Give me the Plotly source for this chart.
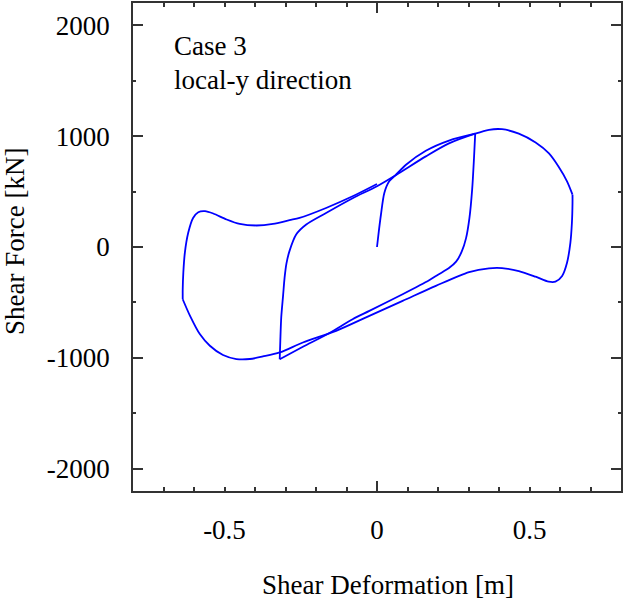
import plotly.graph_objects as go

# ---- data ----
# 1: initial loading 0 -> +0.32
seg1_x = [0.0, 0.006, 0.013, 0.024, 0.040, 0.060, 0.095, 0.160, 0.236, 0.322]
seg1_y = [0, 143, 293, 487, 592, 646, 742, 868, 960, 1022]
# 2: unloading +0.32 -> -0.32
seg2_x = [0.322, 0.318, 0.312, 0.303, 0.292, 0.278, 0.260, 0.236, 0.200, 0.171,
          0.084, -0.025, -0.080, -0.156, -0.243, -0.319]
seg2_y = [1022, 800, 520, 260, 80, -40, -130, -190, -250, -300,
          -426, -576, -651, -775, -900, -1012]
# 3: reloading -0.32 -> +0.64
seg3_x = [-0.319, -0.317, -0.314, -0.308, -0.303, -0.297, -0.287, -0.265, -0.232, -0.167,
          -0.080, 0.0, 0.064, 0.160, 0.236, 0.322, 0.367, 0.410, 0.465, 0.520,
          0.563, 0.595, 0.623, 0.641]
seg3_y = [-1012, -845, -636, -440, -277, -150, -37, 113, 203, 307,
          440, 548, 652, 817, 934, 1022, 1057, 1062, 1022, 942,
          846, 726, 592, 472]
# 4: unloading +0.64 -> -0.64
seg4_x = [0.641, 0.641, 0.639, 0.634, 0.623, 0.607, 0.585, 0.563, 0.520, 0.465,
          0.410, 0.367, 0.302, 0.193, 0.084, -0.025, -0.134, -0.243, -0.319, -0.374,
          -0.417, -0.461, -0.505, -0.548, -0.581, -0.613, -0.637]
seg4_y = [472, 397, 217, 38, -142, -261, -313, -313, -268, -217,
          -190, -192, -226, -350, -486, -621, -756, -861, -951, -987,
          -1010, -1010, -974, -890, -785, -621, -471]
# 5: reloading -0.64 -> 0
seg5_x = [-0.637, -0.637, -0.635, -0.630, -0.619, -0.603, -0.586, -0.564, -0.537, -0.493,
          -0.450, -0.395, -0.341, -0.287, -0.254, -0.167, -0.080, 0.0]
seg5_y = [-471, -381, -232, -52, 128, 262, 314, 323, 302, 248,
          208, 194, 208, 242, 262, 352, 457, 568]

x_tick_vals = [-0.7, -0.6, -0.5, -0.4, -0.3, -0.2, -0.1, 0.0, 0.1, 0.2, 0.3, 0.4, 0.5, 0.6, 0.7]
x_tick_text = ["", "", "-0.5", "", "", "", "", "0", "", "", "", "", "0.5", "", ""]
x_major_ticks = [0.0]
y_tick_vals = [-2000, -1000, 0, 1000, 2000]
y_tick_text = ["-2000", "-1000", "0", "1000", "2000"]
y_minor_ticks = [-1500, -500, 500, 1500]

FONT = "Liberation Serif"
AX = "#333333"

fig = go.Figure()
for xs, ys in [(seg1_x, seg1_y), (seg2_x, seg2_y), (seg3_x, seg3_y),
               (seg4_x, seg4_y), (seg5_x, seg5_y)]:
    fig.add_trace(go.Scatter(x=xs, y=ys, mode="lines",
                             line=dict(color="#0000ff", width=1.8, shape="spline", smoothing=0.8),
                             showlegend=False, hoverinfo="skip"))
# empty trace to activate overlay axes
fig.add_trace(go.Scatter(x=[], y=[], xaxis="x2", yaxis="y2", showlegend=False))

common = dict(showgrid=False, zeroline=False, showline=True, linecolor=AX, linewidth=1.5,
              ticks="inside", tickcolor=AX, tickwidth=1.5, mirror="ticks")

fig.update_layout(
    width=624, height=599,
    margin=dict(l=133, r=1, t=1, b=108),
    paper_bgcolor="white", plot_bgcolor="white",
    font=dict(family=FONT, size=27, color="black"),
    xaxis=dict(range=[-0.8, 0.8], tickmode="array", tickvals=x_tick_vals, ticktext=x_tick_text,
               ticklen=4.5, ticklabelstandoff=14, **common),
    xaxis2=dict(range=[-0.8, 0.8], overlaying="x", anchor="y", side="bottom",
                tickmode="array", tickvals=x_major_ticks, ticklen=10, showticklabels=False, **common),
    yaxis=dict(range=[-2200, 2200], tickmode="array", tickvals=y_tick_vals, ticktext=y_tick_text,
               ticklen=10, ticklabelstandoff=16, **common),
    yaxis2=dict(range=[-2200, 2200], overlaying="y", anchor="x", side="left",
                tickmode="array", tickvals=y_minor_ticks, ticklen=3.5, showticklabels=False, **common),
    annotations=[
        dict(text="Case 3", xref="paper", yref="paper", x=0.080, y=0.911,
             xanchor="left", yanchor="middle", showarrow=False, font=dict(size=27)),
        dict(text="local-y direction", xref="paper", yref="paper", x=0.080, y=0.842,
             xanchor="left", yanchor="middle", showarrow=False, font=dict(size=27)),
        dict(text="Shear Deformation [m]", xref="paper", yref="paper", x=0.522, y=-0.193,
             xanchor="center", yanchor="middle", showarrow=False, font=dict(size=27)),
        dict(text="Shear Force [kN]", xref="paper", yref="paper", x=-0.242, y=0.512,
             xanchor="center", yanchor="middle", textangle=-90, showarrow=False, font=dict(size=27)),
    ],
)

fig.write_html("out.html", config={"displayModeBar": False},
               post_script="document.body.style.margin='0';document.body.style.overflow='hidden';")
